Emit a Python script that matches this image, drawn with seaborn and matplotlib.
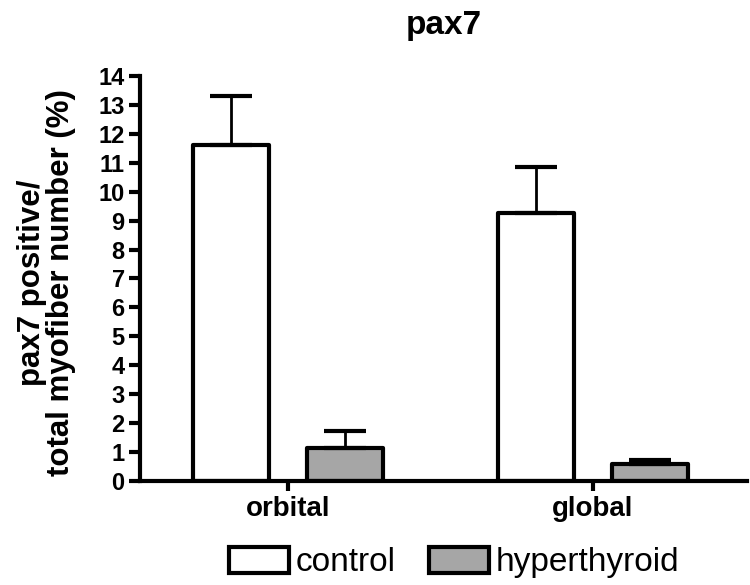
import pandas as pd
import matplotlib
matplotlib.use('Agg')
import matplotlib.pyplot as plt
import seaborn as sns
from matplotlib.patches import Patch

# Data
regions = ['orbital', 'global']
groups = ['control', 'hyperthyroid']
control_mean = [11.6, 9.25]
control_err = [1.7, 1.6]
hyper_mean = [1.14, 0.6]
hyper_err = [0.58, 0.13]
colors = {'control': 'white', 'hyperthyroid': '#a6a6a6'}

df = pd.DataFrame({
    'region': regions * 2,
    'group': ['control'] * 2 + ['hyperthyroid'] * 2,
    'value': control_mean + hyper_mean,
})

sns.set_style('ticks')
plt.rcParams['font.family'] = ['Liberation Sans', 'DejaVu Sans']
plt.rcParams['text.color'] = 'black'
plt.rcParams['axes.labelcolor'] = 'black'
plt.rcParams['xtick.color'] = 'black'
plt.rcParams['ytick.color'] = 'black'
plt.rcParams['axes.edgecolor'] = 'black'

fig = plt.figure(figsize=(7.5, 5.85), dpi=100)
ax = fig.add_axes([0.1867, 0.1778, 0.8093, 0.6923])

sns.barplot(data=df, x='region', y='value', hue='group', order=regions,
            hue_order=groups, palette=colors, width=0.753, gap=0.338,
            edgecolor='black', linewidth=3, errorbar=None, legend=False, ax=ax)

# one-sided error bars on top of each bar
bars = sorted(ax.patches, key=lambda p: p.get_x())
errs = [control_err[0], hyper_err[0], control_err[1], hyper_err[1]]
for p, e in zip(bars, errs):
    p.set_joinstyle('round')
    xc = p.get_x() + p.get_width() / 2
    ax.errorbar(xc, p.get_height(), yerr=[[0], [e]], fmt='none', ecolor='black',
                elinewidth=2, capsize=14.8, capthick=3, zorder=1)

ax.set_xlim(-0.485, 1.505)
ax.set_ylim(0, 14)
ax.set_yticks(range(0, 15))
ax.tick_params(axis='y', labelsize=17, width=3, length=8, pad=3)
ax.tick_params(axis='x', labelsize=20, width=3, length=7, pad=4)
for lab in ax.get_xticklabels() + ax.get_yticklabels():
    lab.set_fontweight('bold')
for s in ['top', 'right']:
    ax.spines[s].set_visible(False)
for s in ['left', 'bottom']:
    ax.spines[s].set_linewidth(3)

ax.set_xlabel('')
ax.set_ylabel('pax7 positive/\ntotal myofiber number (%)', fontsize=22.5,
              fontweight='bold', linespacing=0.95)
ax.yaxis.set_label_coords(-0.105, 0.49)
ax.set_title('pax7', fontsize=24, fontweight='bold', pad=30)

handles = [Patch(facecolor=colors[g], edgecolor='black', linewidth=3) for g in groups]
fig.legend(handles, groups, loc='center', bbox_to_anchor=(0.605, 0.038), ncol=2,
           frameon=False, fontsize=24, handlelength=1.8, handleheight=0.8,
           handletextpad=0.2, columnspacing=1.0)

fig.savefig('out.png', dpi=100)
